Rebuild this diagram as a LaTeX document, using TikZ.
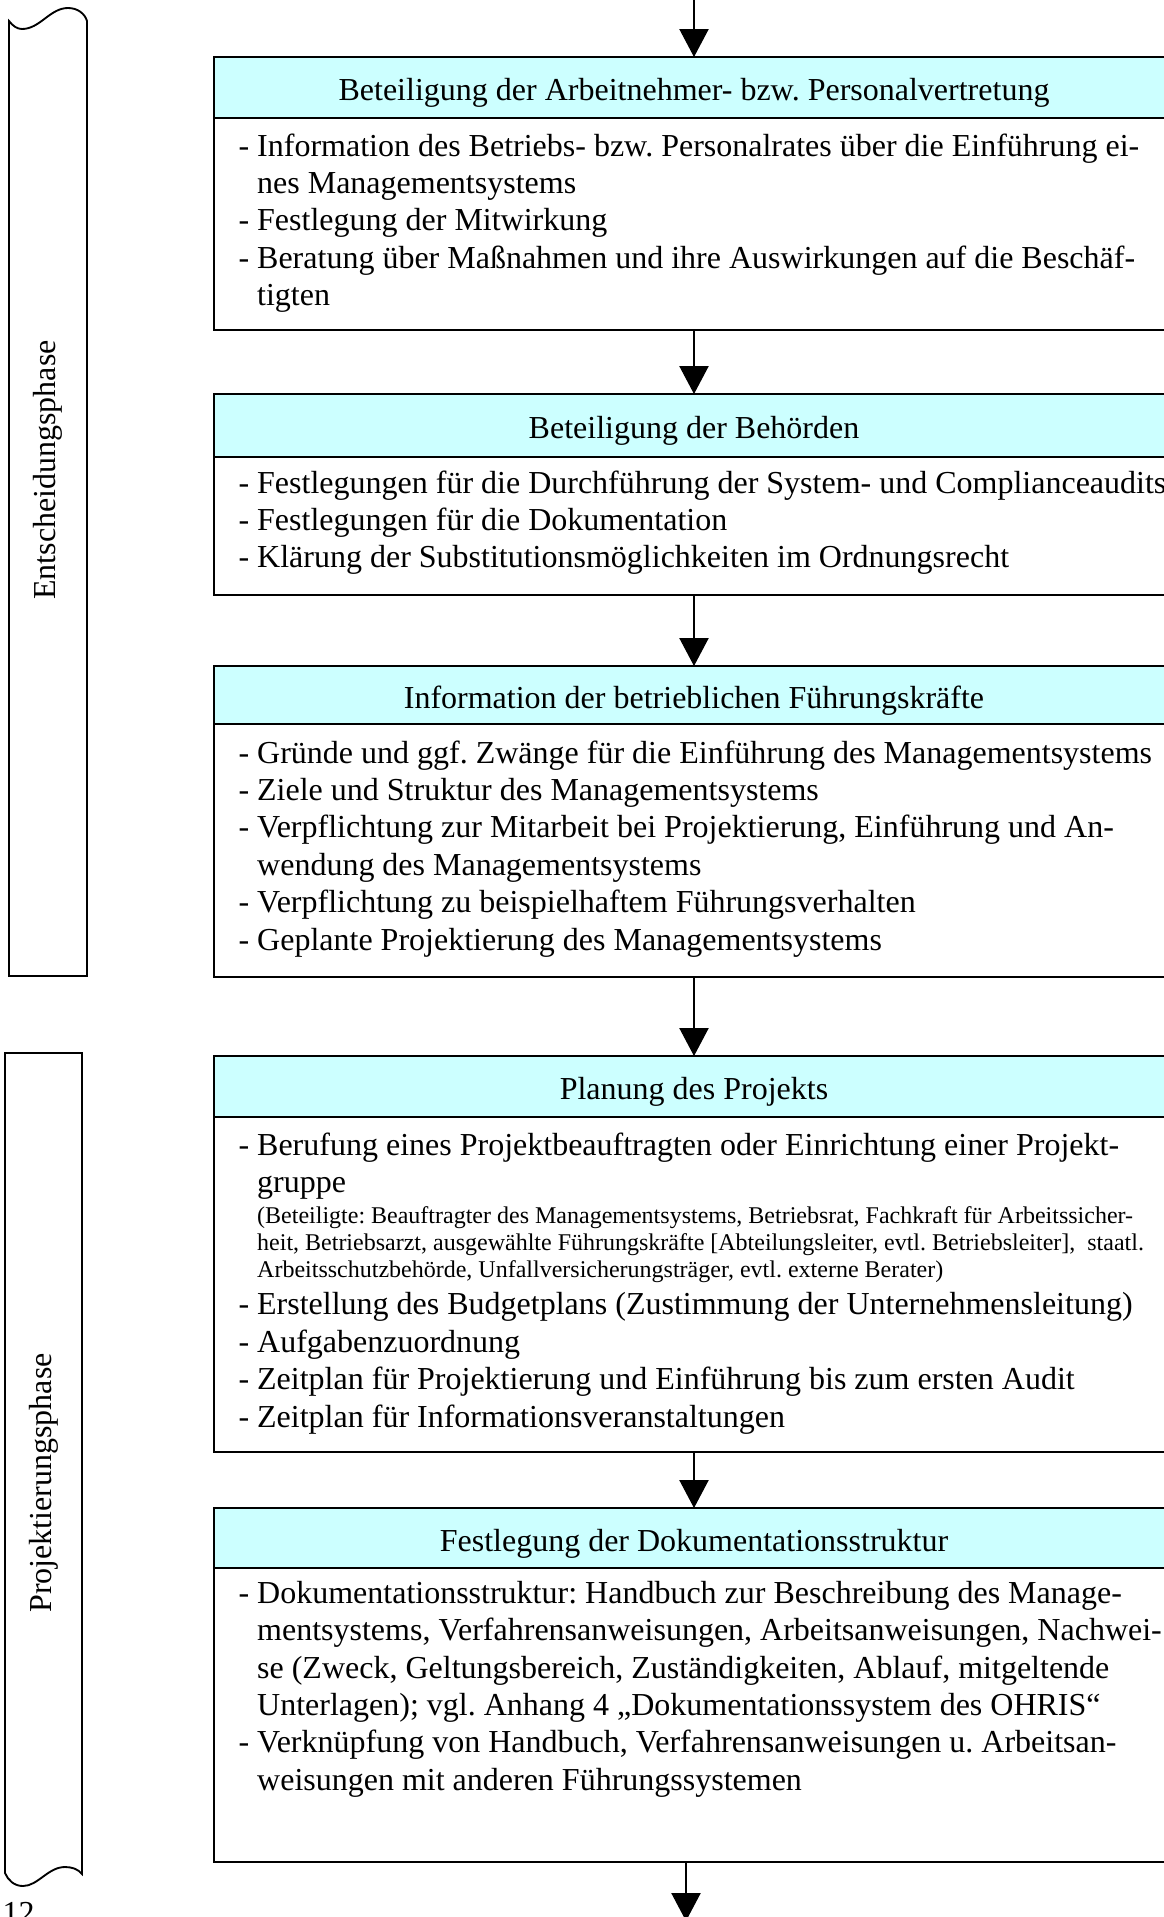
\documentclass[tikz,border=0pt]{standalone}
\usepackage{fontspec}
\setmainfont{Liberation Serif}
\usetikzlibrary{arrows.meta}
\definecolor{headcyan}{HTML}{CCFFFF}
\frenchspacing
\newlength\hangw
\newcommand\bodyfont{\fontsize{12pt}{14.06pt}\selectfont}
\newcommand\smallfont{\fontsize{9pt}{10.1pt}\selectfont}
\newcommand\hi{\hspace*{\hangw}}
\newcommand\items[1]{\parbox[t]{460pt}{\bodyfont\settowidth\hangw{-\ }\raggedright #1}}
\begin{document}
\begin{tikzpicture}[x=0.375pt, y=-0.375pt,
  hdr/.style={draw, line width=0.95pt, fill=headcyan, minimum width=360pt,
    inner sep=0pt, outer sep=0pt, text height=12pt, text depth=2pt,
    font=\bodyfont, anchor=north west},
  bodybox/.style={draw, line width=0.95pt, minimum width=360pt,
    inner sep=0pt, outer sep=0pt, anchor=north west},
  bodytext/.style={inner sep=0pt, anchor=base west},
  flow/.style={line width=0.4pt, -{Triangle[width=11pt,length=10.5pt]}},
  phase/.style={draw, line width=0.7pt},
  phaselabel/.style={rotate=90, font=\bodyfont, inner sep=0pt}]
\useasboundingbox (0,0) rectangle (1163,1917);

% phase brackets on the left
\draw[phase] (9,21) .. controls (13,26) and (17,29) .. (22,29)
  .. controls (40,29) and (50,8) .. (68,8)
  .. controls (78,8) and (85,14) .. (87,21) -- (87,976) -- (9,976) -- cycle;
\node[phaselabel] (p1) at (48,470) {Entscheidungsphase};

\draw[phase] (5,1053) -- (82,1053) -- (82,1874)
  .. controls (78,1869) and (72,1867) .. (65,1867)
  .. controls (48,1867) and (38,1886) .. (23,1886)
  .. controls (14,1886) and (8,1880) .. (5,1873) -- cycle;
\node[phaselabel] (p2) at (44,1483) {Projektierungsphase};

% step 1
\node[hdr, minimum height=22.875pt] (h1) at (214,57)
  {Beteiligung der Arbeitnehmer- bzw. Personalvertretung};
\node[bodybox, minimum height=79.5pt] (b1) at (h1.south west) {};
\node[bodytext] (t1) at ([shift={(24,38)}]b1.north west) {\items{%
- Information des Betriebs- bzw. Personalrates über die Einführung ei-\\
\hi nes Managementsystems\\
- Festlegung der Mitwirkung\\
- Beratung über Maßnahmen und ihre Auswirkungen auf die Beschäf-\\
\hi tigten}};

% step 2
\node[hdr, minimum height=23.625pt] (h2) at (214,394) {Beteiligung der Behörden};
\node[bodybox, minimum height=51.75pt] (b2) at (h2.south west) {};
\node[bodytext] (t2) at ([shift={(24,36)}]b2.north west) {\items{%
- Festlegungen für die Durchführung der System- und Complianceaudits\\
- Festlegungen für die Dokumentation\\
- Klärung der Substitutionsmöglichkeiten im Ordnungsrecht}};

% step 3
\node[hdr, minimum height=21.75pt] (h3) at (214,666)
  {Information der betrieblichen Führungskräfte};
\node[bodybox, minimum height=94.875pt] (b3) at (h3.south west) {};
\node[bodytext] (t3) at ([shift={(24,39)}]b3.north west) {\items{%
- Gründe und ggf. Zwänge für die Einführung des Managementsystems\\
- Ziele und Struktur des Managementsystems\\
- Verpflichtung zur Mitarbeit bei Projektierung, Einführung und An-\\
\hi wendung des Managementsystems\\
- Verpflichtung zu beispielhaftem Führungsverhalten\\
- Geplante Projektierung des Managementsystems}};

% step 4
\node[hdr, minimum height=22.875pt] (h4) at (214,1056) {Planung des Projekts};
\node[bodybox, minimum height=125.625pt] (b4) at (h4.south west) {};
\node[bodytext] (t4) at ([shift={(24,38)}]b4.north west) {\items{%
- Berufung eines Projektbeauftragten oder Einrichtung einer Projekt-\\
\hi gruppe\par
\vspace{1.5pt}\smallfont
\hi (Beteiligte: Beauftragter des Managementsystems, Betriebsrat, Fachkraft für Arbeitssicher-\\
\hi heit, Betriebsarzt, ausgewählte Führungskräfte [Abteilungsleiter, evtl. Betriebsleiter],\ \ staatl.\\
\hi Arbeitsschutzbehörde, Unfallversicherungsträger, evtl. externe Berater)\par
\bodyfont
- Erstellung des Budgetplans (Zustimmung der Unternehmensleitung)\\
- Aufgabenzuordnung\\
- Zeitplan für Projektierung und Einführung bis zum ersten Audit\\
- Zeitplan für Informationsveranstaltungen}};

% step 5
\node[hdr, minimum height=22.5pt] (h5) at (214,1508)
  {Festlegung der Dokumentationsstruktur};
\node[bodybox, minimum height=110.25pt] (b5) at (h5.south west) {};
\node[bodytext] (t5) at ([shift={(24,35)}]b5.north west) {\items{%
- Dokumentationsstruktur: Handbuch zur Beschreibung des Manage-\\
\hi mentsystems, Verfahrensanweisungen, Arbeitsanweisungen, Nachwei-\\
\hi se (Zweck, Geltungsbereich, Zuständigkeiten, Ablauf, mitgeltende\\
\hi Unterlagen); vgl. Anhang 4 „Dokumentationssystem des OHRIS“\\
- Verknüpfung von Handbuch, Verfahrensanweisungen u. Arbeitsan-\\
\hi weisungen mit anderen Führungssystemen}};

% flow arrows
\coordinate (in) at (694,-2);
\coordinate (out) at (686,1921);
\draw[flow] (in) -- (h1.north);
\draw[flow] (b1.south) -- (h2.north);
\draw[flow] (b2.south) -- (h3.north);
\draw[flow] (b3.south) -- (h4.north);
\draw[flow] (b4.south) -- (h5.north);
\draw[flow] (b5.south -| out) -- (out);

% page number
\node[font=\bodyfont, inner sep=0pt, anchor=base west] (pg) at (2,1923) {12};
\end{tikzpicture}
\end{document}
